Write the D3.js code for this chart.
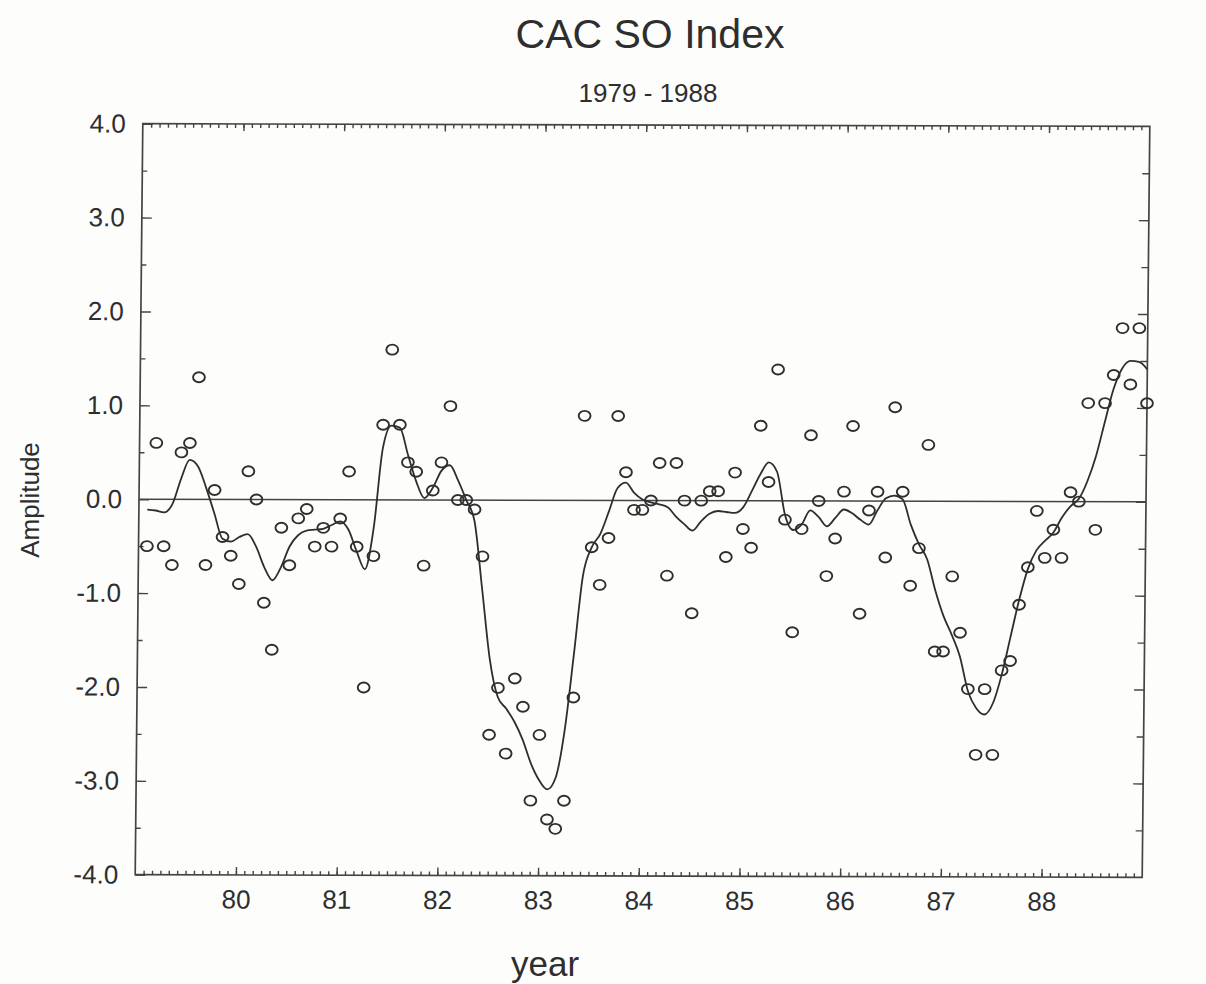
<!DOCTYPE html>
<html>
<head>
<meta charset="utf-8">
<script src="https://cdn.jsdelivr.net/npm/d3@7"></script>
<style>
  html, body { margin: 0; padding: 0; background: #fdfdfc; }
  svg { display: block; font-family: "Liberation Sans", Arial, Helvetica, sans-serif; }
</style>
</head>
<body>
<svg id="chart" width="1206" height="984"></svg>
<script>
// Monthly CAC Southern Oscillation index, Jan 1979 - Dec 1988
const startYear = 79;
const soIndex = [
  -0.5, 0.6, -0.5, -0.7, 0.5, 0.6, 1.3, -0.7, 0.1, -0.4, -0.6, -0.9,
  0.3, 0.0, -1.1, -1.6, -0.3, -0.7, -0.2, -0.1, -0.5, -0.3, -0.5, -0.2,
  0.3, -0.5, -2.0, -0.6, 0.8, 1.6, 0.8, 0.4, 0.3, -0.7, 0.1, 0.4,
  1.0, 0.0, 0.0, -0.1, -0.6, -2.5, -2.0, -2.7, -1.9, -2.2, -3.2, -2.5,
  -3.4, -3.5, -3.2, -2.1, 0.9, -0.5, -0.9, -0.4, 0.9, 0.3, -0.1, -0.1,
  0.0, 0.4, -0.8, 0.4, 0.0, -1.2, 0.0, 0.1, 0.1, -0.6, 0.3, -0.3,
  -0.5, 0.8, 0.2, 1.4, -0.2, -1.4, -0.3, 0.7, 0.0, -0.8, -0.4, 0.1,
  0.8, -1.2, -0.1, 0.1, -0.6, 1.0, 0.1, -0.9, -0.5, 0.6, -1.6, -1.6,
  -0.8, -1.4, -2.0, -2.7, -2.0, -2.7, -1.8, -1.7, -1.1, -0.7, -0.1, -0.6,
  -0.3, -0.6, 0.1, 0.0, 1.05, -0.3, 1.05, 1.35, 1.85, 1.25, 1.85, 1.05
];

// Smoothed index, one value per month
const smoothed = [
  -0.11, -0.12, -0.14, -0.05, 0.22, 0.42, 0.35, 0.12, -0.15, -0.42, -0.45, -0.40,
  -0.37, -0.50, -0.72, -0.86, -0.72, -0.50, -0.38, -0.33, -0.32, -0.31, -0.27, -0.23,
  -0.32, -0.55, -0.74, -0.30, 0.55, 0.79, 0.77, 0.48, 0.20, 0.02, 0.13, 0.31,
  0.37, 0.21, 0.00, -0.22, -0.95, -1.70, -2.10, -2.22, -2.36, -2.55, -2.80, -2.98,
  -3.08, -2.95, -2.45, -1.65, -0.80, -0.50, -0.36, -0.12, 0.13, 0.19, 0.08, 0.01,
  -0.02, -0.04, -0.07, -0.17, -0.25, -0.32, -0.22, -0.14, -0.11, -0.12, -0.13, -0.07,
  0.10, 0.28, 0.41, 0.31, -0.15, -0.31, -0.25, -0.10, -0.17, -0.27, -0.18, -0.09,
  -0.13, -0.20, -0.25, -0.10, 0.03, 0.06, 0.02, -0.25, -0.46, -0.62, -0.95, -1.22,
  -1.42, -1.65, -2.02, -2.20, -2.27, -2.15, -1.85, -1.45, -1.05, -0.72, -0.52, -0.42,
  -0.33, -0.17, -0.05, 0.03, 0.22, 0.49, 0.85, 1.20, 1.42, 1.50, 1.49, 1.41
];

const yearTicks = [80, 81, 82, 83, 84, 85, 86, 87, 88];
const yTickValues = [4, 3, 2, 1, 0, -1, -2, -3, -4];

const titleText = "CAC SO Index";
const subtitleText = "1979 - 1988";
const xLabel = "year";
const yLabel = "Amplitude";

// ---- layout ----
const plot = { left: 139, right: 1146, top: 125, bottom: 876 };
const ink = "#2e2e2e";
const frameInk = "#444";

const x = d3.scaleLinear().domain([startYear, startYear + 10]).range([plot.left, plot.right]);
const y = d3.scaleLinear().domain([-4, 4]).range([plot.bottom, plot.top]);
const monthPos = i => startYear + (i + 1) / 12;   // month i sits at the end of its month

const svg = d3.select("#chart");

// Titles
svg.append("text")
  .attr("x", 650).attr("y", 48)
  .attr("text-anchor", "middle")
  .attr("font-size", 41).attr("fill", ink)
  .text(titleText);

svg.append("text")
  .attr("x", 648).attr("y", 102)
  .attr("text-anchor", "middle")
  .attr("font-size", 26).attr("fill", ink)
  .text(subtitleText);

svg.append("text")
  .attr("x", 545).attr("y", 976)
  .attr("text-anchor", "middle")
  .attr("font-size", 35).attr("fill", ink)
  .text(xLabel);

svg.append("text")
  .attr("transform", "translate(39,500) rotate(-90)")
  .attr("text-anchor", "middle")
  .attr("font-size", 26).attr("fill", ink)
  .text(yLabel);

// Plot group, very slightly sheared and turned like the printed page
const cx = (plot.left + plot.right) / 2, cy = (plot.top + plot.bottom) / 2;
const g = svg.append("g")
  .attr("transform", `translate(${cx},${cy}) rotate(0.15) skewX(-0.43) translate(${-cx},${-cy})`);

const fmt = v => v.toFixed(1);
const monthTicks = d3.range(1, 120).map(k => startYear + k / 12);
const halfTicks = d3.range(-3.5, 4, 1);

function styleAxis(sel) {
  sel.select(".domain").remove();
  sel.selectAll("line").attr("stroke", frameInk).attr("stroke-width", 1.4);
  sel.selectAll("text").attr("fill", ink).attr("font-size", 26)
    .attr("font-family", "'Liberation Sans', Arial, Helvetica, sans-serif");
}

// bottom: year ticks with labels, monthly minor ticks
g.append("g").attr("transform", `translate(0,${plot.bottom})`)
  .call(d3.axisBottom(x).tickValues(monthTicks).tickSize(-4).tickFormat(""))
  .call(styleAxis);
g.append("g").attr("transform", `translate(0,${plot.bottom})`)
  .call(d3.axisBottom(x).tickValues(yearTicks).tickSize(-8).tickSizeOuter(0).tickPadding(15).tickFormat(d => d))
  .call(styleAxis);

// top: mirrored ticks, no labels
g.append("g").attr("transform", `translate(0,${plot.top})`)
  .call(d3.axisTop(x).tickValues(monthTicks).tickSize(-4).tickFormat(""))
  .call(styleAxis);
g.append("g").attr("transform", `translate(0,${plot.top})`)
  .call(d3.axisTop(x).tickValues(yearTicks).tickSize(-7).tickFormat(""))
  .call(styleAxis);

// left: labelled unit ticks and half-unit minor ticks
g.append("g").attr("transform", `translate(${plot.left},0)`)
  .call(d3.axisLeft(y).tickValues(yTickValues).tickSize(-10).tickSizeOuter(0).tickPadding(17).tickFormat(fmt))
  .call(styleAxis);
g.append("g").attr("transform", `translate(${plot.left},0)`)
  .call(d3.axisLeft(y).tickValues(halfTicks).tickSize(-5).tickFormat(""))
  .call(styleAxis);

// right: inward ticks every half unit
g.append("g").attr("transform", `translate(${plot.right},0)`)
  .call(d3.axisRight(y).tickValues(yTickValues.filter(v => v > -4 && v < 4)).tickSize(-10).tickFormat(""))
  .call(styleAxis);
g.append("g").attr("transform", `translate(${plot.right},0)`)
  .call(d3.axisRight(y).tickValues(halfTicks).tickSize(-7).tickFormat(""))
  .call(styleAxis);

// frame
g.append("rect")
  .attr("x", plot.left).attr("y", plot.top)
  .attr("width", plot.right - plot.left).attr("height", plot.bottom - plot.top)
  .attr("fill", "none").attr("stroke", frameInk).attr("stroke-width", 1.7);

// zero line
g.append("line")
  .attr("x1", plot.left).attr("x2", plot.right)
  .attr("y1", y(0)).attr("y2", y(0))
  .attr("stroke", frameInk).attr("stroke-width", 1.5);

// smoothed curve
const line = d3.line()
  .x((d, i) => x(monthPos(i)))
  .y(d => y(d))
  .curve(d3.curveMonotoneX);

g.append("path")
  .datum(smoothed)
  .attr("d", line)
  .attr("fill", "none")
  .attr("stroke", ink)
  .attr("stroke-width", 1.8)
  .attr("stroke-linejoin", "round");

// monthly values as open rings
g.append("g").selectAll("ellipse")
  .data(soIndex)
  .join("ellipse")
  .attr("cx", (d, i) => x(monthPos(i)))
  .attr("cy", d => y(d))
  .attr("rx", 5.9)
  .attr("ry", 5.0)
  .attr("fill", "none")
  .attr("stroke", ink)
  .attr("stroke-width", 1.9);
</script>
</body>
</html>
